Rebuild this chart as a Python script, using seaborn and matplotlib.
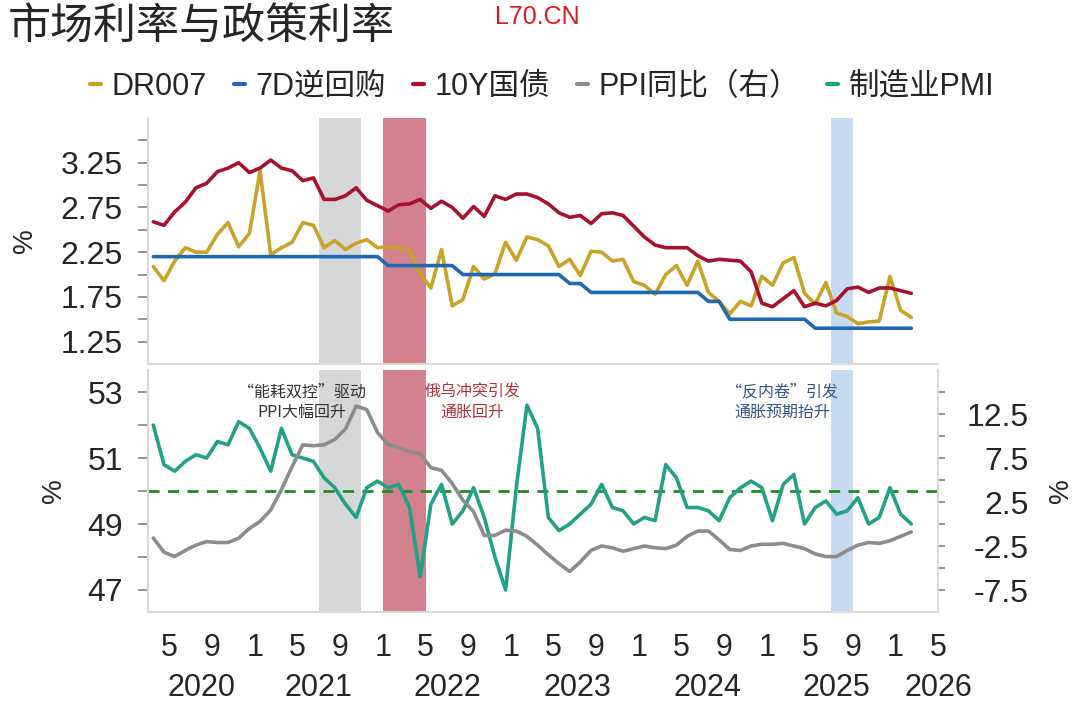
import numpy as np
import pandas as pd
import matplotlib
matplotlib.use("Agg")
import matplotlib.pyplot as plt
from matplotlib.lines import Line2D
from matplotlib.ticker import FixedLocator, NullFormatter
import seaborn as sns

# 月度数据: 2020-03 至 2026-02
months = pd.period_range("2020-03", "2026-02", freq="M")

dr007 = [2.09, 1.93, 2.15, 2.30, 2.25, 2.25, 2.45, 2.58, 2.31, 2.46, 3.16, 2.22,
         2.30, 2.36, 2.58, 2.55, 2.30, 2.38, 2.28, 2.35, 2.39, 2.30, 2.31, 2.30,
         2.27, 2.01, 1.85, 2.28, 1.65, 1.72, 2.09, 1.95, 2.01, 2.36, 2.16, 2.42,
         2.39, 2.32, 2.09, 2.17, 1.99, 2.26, 2.25, 2.15, 2.17, 1.92, 1.88, 1.78,
         2.00, 2.10, 1.88, 2.15, 1.80, 1.70, 1.56, 1.70, 1.65, 1.98, 1.88, 2.13,
         2.19, 1.79, 1.67, 1.91, 1.57, 1.53, 1.45, 1.47, 1.48, 1.98, 1.60, 1.52]

repo7d = [2.20, 2.20, 2.20, 2.20, 2.20, 2.20, 2.20, 2.20, 2.20, 2.20, 2.20, 2.20,
          2.20, 2.20, 2.20, 2.20, 2.20, 2.20, 2.20, 2.20, 2.20, 2.20, 2.10, 2.10,
          2.10, 2.10, 2.10, 2.10, 2.10, 2.00, 2.00, 2.00, 2.00, 2.00, 2.00, 2.00,
          2.00, 2.00, 2.00, 1.90, 1.90, 1.80, 1.80, 1.80, 1.80, 1.80, 1.80, 1.80,
          1.80, 1.80, 1.80, 1.80, 1.70, 1.70, 1.50, 1.50, 1.50, 1.50, 1.50, 1.50,
          1.50, 1.50, 1.40, 1.40, 1.40, 1.40, 1.40, 1.40, 1.40, 1.40, 1.40, 1.40]

cgb10y = [2.59, 2.55, 2.70, 2.81, 2.97, 3.02, 3.15, 3.19, 3.25, 3.14, 3.19, 3.28,
          3.19, 3.16, 3.05, 3.08, 2.84, 2.84, 2.88, 2.97, 2.83, 2.77, 2.71, 2.78,
          2.79, 2.84, 2.74, 2.82, 2.75, 2.63, 2.76, 2.65, 2.88, 2.84, 2.90, 2.90,
          2.86, 2.79, 2.69, 2.64, 2.66, 2.57, 2.68, 2.69, 2.66, 2.54, 2.42, 2.33,
          2.30, 2.30, 2.30, 2.21, 2.15, 2.17, 2.16, 2.15, 2.03, 1.68, 1.64, 1.73,
          1.82, 1.64, 1.68, 1.65, 1.71, 1.84, 1.86, 1.80, 1.85, 1.85, 1.82, 1.79]

ppi = [-1.6, -3.2, -3.7, -3.0, -2.4, -2.0, -2.1, -2.1, -1.6, -0.5, 0.3, 1.6,
       3.9, 6.5, 9.0, 8.9, 9.0, 9.6, 10.8, 13.4, 13.0, 10.4, 9.0, 8.7,
       8.2, 8.0, 6.4, 6.1, 4.6, 2.7, 1.4, -1.3, -1.3, -0.7, -0.8, -1.4,
       -2.4, -3.5, -4.5, -5.4, -4.3, -3.0, -2.5, -2.7, -3.1, -2.8, -2.5, -2.7,
       -2.8, -2.4, -1.4, -0.8, -0.8, -1.8, -2.9, -3.0, -2.5, -2.3, -2.3, -2.2,
       -2.5, -2.8, -3.4, -3.7, -3.7, -3.0, -2.4, -2.1, -2.2, -1.9, -1.4, -0.9]

pmi = [52.0, 50.8, 50.6, 50.9, 51.1, 51.0, 51.5, 51.4, 52.1, 51.9, 51.3, 50.6,
       51.9, 51.1, 51.0, 50.9, 50.4, 50.1, 49.6, 49.2, 50.1, 50.3, 50.1, 50.2,
       49.5, 47.4, 49.6, 50.2, 49.0, 49.4, 50.1, 49.2, 48.0, 47.0, 50.1, 52.6,
       51.9, 49.2, 48.8, 49.0, 49.3, 49.6, 50.2, 49.5, 49.4, 49.0, 49.2, 49.1,
       50.8, 50.4, 49.5, 49.5, 49.4, 49.1, 49.8, 50.1, 50.3, 50.1, 49.1, 50.2,
       50.5, 49.0, 49.5, 49.7, 49.3, 49.4, 49.8, 49.0, 49.2, 50.1, 49.3, 49.0]

# 阴影区间 (起始月, 结束月)
spans = [("2021-07", "2021-11"), ("2022-01", "2022-05"), ("2025-07", "2025-09")]
span_colors = ["#D6D7D9", "#D3818D", "#C5D9F0"]

notes = ["\u201c能耗双控\u201d驱动\nPPI大幅回升", "俄乌冲突引发\n通胀回升",
         "\u201c反内卷\u201d引发\n通胀预期抬升"]
note_months = ["2021-05", "2022-09", "2025-02"]
note_colors = ["#333333", "#B8323F", "#34548A"]

years = ["2020", "2021", "2022", "2023", "2024", "2025", "2026"]
year_pos = [7, 18, 30, 42.2, 54.4, 66.5, 76]

labels = ["DR007", "7D逆回购", "10Y国债", "PPI同比（右）", "制造业PMI"]
colors = ["#C9A227", "#1F68B4", "#A8102E", "#8C8C8C", "#21A186"]


def month_index(p):
    p = pd.Period(p, freq="M")
    return (p.year - 2020) * 12 + p.month - 1


t = np.array([month_index(m) for m in months]) + 0.5

sns.set_theme(style="white")
plt.rcParams["font.family"] = ["Liberation Sans", "Noto Sans CJK SC"]
plt.rcParams["axes.unicode_minus"] = False

fig = plt.figure(figsize=(10.8, 7.02), dpi=100)
ax1 = fig.add_axes([0.137, 0.4815, 0.7315, 0.3504])
ax2 = fig.add_axes([0.137, 0.1282, 0.7315, 0.3447])
ax3 = ax2.twinx()

xmin, xmax = 2, 76
spine_c = "#D9D9D9"
tick_c = "#808080"

for ax in (ax1, ax2):
    for (a, b), c in zip(spans, span_colors):
        ax.axvspan(month_index(a), month_index(b), color=c, lw=0, zorder=0.5)

# 上图: 利率
sns.lineplot(x=t, y=dr007, ax=ax1, color=colors[0], linewidth=2.6)
sns.lineplot(x=t, y=repo7d, ax=ax1, color=colors[1], linewidth=2.6)
sns.lineplot(x=t, y=cgb10y, ax=ax1, color=colors[2], linewidth=2.6)

# 下图: PMI 与 PPI
ax2.axhline(50, color="#1E8C1E", lw=2, ls=(0, (4, 3)), zorder=1.5)
sns.lineplot(x=t, y=pmi, ax=ax2, color=colors[4], linewidth=2.6)
sns.lineplot(x=t, y=ppi, ax=ax3, color=colors[3], linewidth=2.6)

ax1.set_xlim(xmin, xmax)
ax1.set_ylim(1.0, 3.75)
ax1.yaxis.set_major_locator(FixedLocator([1.25, 1.75, 2.25, 2.75, 3.25]))
ax1.yaxis.set_minor_locator(FixedLocator([1.5, 2.0, 2.5, 3.0, 3.5]))
ax1.set_xticks([])

ax2.set_xlim(xmin, xmax)
ax2.set_ylim(46.333, 53.667)
ax2.yaxis.set_major_locator(FixedLocator([47, 49, 51, 53]))
ax2.yaxis.set_minor_locator(FixedLocator([48, 50, 52]))
ax3.set_ylim(-10, 17.5)
ax3.yaxis.set_major_locator(FixedLocator([-7.5, -2.5, 2.5, 7.5, 12.5]))
ax3.yaxis.set_minor_locator(FixedLocator([-5, 0, 5, 10, 15]))

xt = np.arange(4, 77, 4)
ax2.set_xticks(xt)
ax2.set_xticklabels([str(int(v) % 12 + 1) for v in xt])
ax2.xaxis.set_minor_locator(FixedLocator(np.arange(12, 77, 12)))
ax2.tick_params(axis="x", which="major", length=4, width=1.2, color=tick_c,
                pad=11, labelsize=22)
ax2.tick_params(axis="x", which="minor", length=8, width=1.2, color=tick_c)

for ax in (ax1, ax2):
    ax.tick_params(axis="y", which="both", length=7, width=1.2, color=tick_c,
                   left=True, pad=11, labelsize=23)
    ax.yaxis.set_minor_formatter(NullFormatter())
    ax.set_xlabel("")
ax3.tick_params(axis="y", which="both", length=5, width=1.2, color=tick_c,
                right=True, pad=60, labelsize=23)
for lab in ax3.get_yticklabels():
    lab.set_horizontalalignment("right")
ax3.yaxis.set_minor_formatter(NullFormatter())

for s in ("top", "right"):
    ax1.spines[s].set_visible(False)
ax2.spines["top"].set_visible(False)
ax3.spines["top"].set_visible(False)
for ax in (ax1, ax2, ax3):
    for sp in ax.spines.values():
        sp.set_color(spine_c)
        sp.set_linewidth(1.5)
ax2.spines["right"].set_visible(False)

ax1.set_ylabel("%", fontsize=20)
ax1.yaxis.set_label_coords(-0.139, 0.5)
ax2.set_ylabel("%", fontsize=20)
ax2.yaxis.set_label_coords(-0.103, 0.5)
ax3.set_ylabel("%", fontsize=20)
ax3.yaxis.set_label_coords(1.139, 0.5)

for yl, xp in zip(years, year_pos):
    ax2.annotate(yl, xy=(xp, -0.315), xycoords=("data", "axes fraction"),
                 ha="center", va="center", fontsize=22)

for txt, m, c in zip(notes, note_months, note_colors):
    ax2.text(month_index(m) + 0.4, 52.7, txt, color=c, fontsize=11.5,
             ha="center", va="center", multialignment="center",
             linespacing=1.25, family=["Noto Sans CJK SC", "DejaVu Sans"])

fig.text(0.007, 1 - 28 / 702, "市场利率与政策利率", fontsize=31,
         va="center", ha="left", family=["Noto Sans CJK SC"])
fig.text(0.458, 1 - 17 / 702, "L70.CN", fontsize=18, color="#E0191E",
         va="center", ha="left")

handles = [Line2D([], [], color=c, lw=3) for c in colors]
fig.legend(handles, labels, loc="center", bbox_to_anchor=(0.502, 1 - 87 / 702),
           ncol=5, frameon=False, fontsize=22, handlelength=0.36,
           handletextpad=0.33, columnspacing=0.9)

fig.savefig("out.png", dpi=100)
